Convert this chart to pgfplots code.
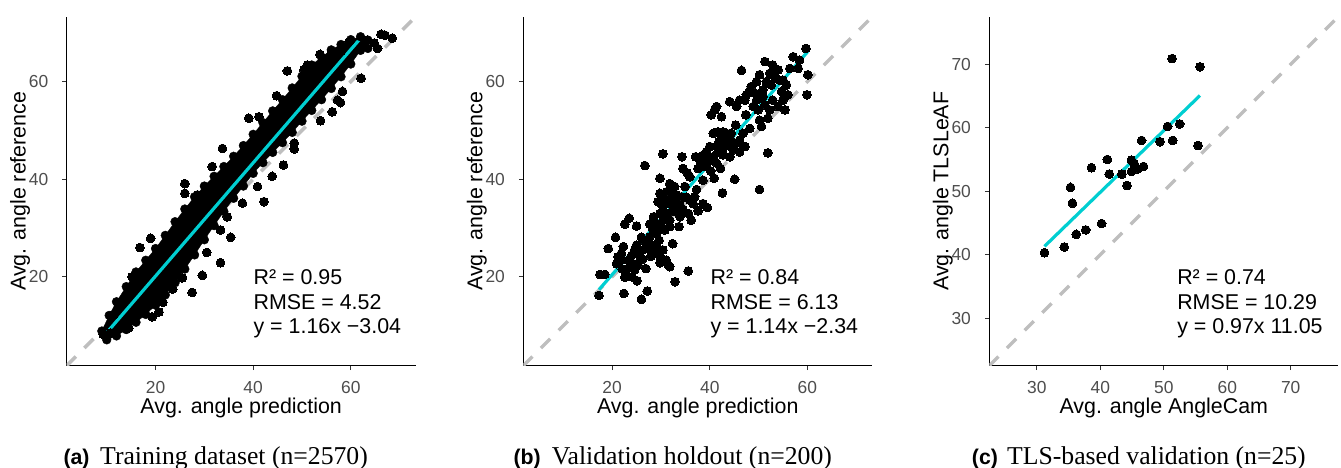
\documentclass[border=0pt]{standalone}
\usepackage{fontspec}
\setmainfont{Liberation Sans}
\newfontfamily\capserif{Liberation Serif}
\usepackage{pgfplots}
\pgfplotsset{compat=1.18}

\definecolor{fitcyan}{RGB}{0,206,209}
\definecolor{refgrey}{RGB}{190,190,190}
\definecolor{ticktext}{RGB}{77,77,77}
\definecolor{tickmark}{RGB}{51,51,51}

\pgfplotsset{
  panel/.style={
    scale only axis, width=349pt, height=349pt,
    anchor=south west,
    axis x line*=bottom, axis y line*=left,
    axis line style={line width=1.3pt, -},
    tick align=outside, major tick length=4.5pt,
    tick style={line width=1pt, color=tickmark},
    /pgf/number format/assume math mode=true,
    ticklabel style={font=\fontsize{17.4}{20}\selectfont, text=ticktext},
    xticklabel style={anchor=base, inner sep=0pt, yshift=-23.6pt},
    yticklabel style={anchor=east, inner sep=0pt, xshift=-13.7pt},
    label style={font=\fontsize{21.4}{24}\selectfont},
    xlabel style={at={(axis description cs:0.5,-0.1384)}, anchor=base},
    ylabel style={at={(axis description cs:-0.1175,0.5)}, anchor=base},
  },
  dots/.style={only marks, mark=*, mark size=4.4pt,
    mark options={draw=black, fill=black, line width=0pt}},
  refline/.style={refgrey, line width=3.5pt, dash pattern=on 13pt off 12pt},
  fitline/.style={fitcyan, line width=3.2pt},
}
\newcommand{\stats}{\fontsize{21.4}{24.2}\selectfont}

\begin{document}
\begin{tikzpicture}
\path[use as bounding box] (0,0) rectangle (1341pt,468pt);

% (a) training
\begin{axis}[panel, at={(66.7pt,102.3pt)},
  xmin=1.8, xmax=73.3, ymin=1.8, ymax=73.3,
  xtick={20,40,60}, ytick={20,40,60},
  xlabel={Avg. angle prediction}, ylabel={Avg. angle reference}]
\addplot[refline] coordinates {(1.8,1.8) (73.3,73.3)};
% dense core of the 2570 points, traced as an envelope (marks at its rim)
\addplot[fill=black, draw=black, mark=*, mark size=4.4pt] coordinates {
 (9,8.9) (10.5,12.1) (12,14.9) (14,18.0) (16,21.0) (18,23.4) (20,25.8)
 (22,28.5) (24,31.3) (26,33.9) (28,36.4) (30,38.6) (32,40.6) (34,42.6)
 (36,44.7) (38,46.9) (40,49.2) (42,51.6) (44,54.0) (46,56.3) (48,58.7)
 (50,61.1) (52,63.4) (54,65.0) (56,66.5) (58,67.6) (60,68.6) (62,69.2)
 (63.5,68.5) (63.5,66.8)
 (62,66.4) (60,63.6) (58,61.0) (56,58.6) (54,56.3) (52,54.1) (50,51.9)
 (48,49.6) (46,47.5) (44,45.5) (42,43.4) (40,41.2) (38,38.6) (36,36.1)
 (34,33.4) (32,30.5) (30,27.6) (28,24.5) (26,21.6) (24,18.8) (22,16.3)
 (20,14.2) (18,12.3) (16,10.7) (14,9.2) (12,7.9) (10,7.1)} -- cycle;
\addplot[dots] coordinates {
 (47.0,62.2) (53.7,65.6) (56.1,66.2) (58.0,66.2) (66.2,69.7) (68.5,68.9)
 (65.5,66.8) (62.1,60.7) (57.9,55.7) (53.8,52.0) (48.4,47.4) (48.4,46.2)
 (46.2,42.9) (43.9,40.6) (42.2,35.4) (39.1,52.5) (33.7,46.3) (26.0,39.1)
 (26.0,37.1) (19.0,27.9) (16.8,26.0) (33.3,22.9) (35.4,28.1) (29.6,20.3)
 (27.5,16.8) (20.7,12.8) (19.3,11.8) (14.5,9.5) (10.8,8.5) (9.3,8.2)
 (15.2,20.0) (12.5,14.1) (11.5,12.3) (51.1,63.4) (50.4,62.4) (59.7,68.2)
 (63.4,68.5) (64.8,67.9) (67.0,69.5) (44.8,57.1) (41.2,52.8) (31.6,42.6)
 (28.6,36.8) (37.8,35.1) (40.9,38.5) (34.7,32.3) (33.3,29.6) (57.3,56.2)
 (58.3,58.0) (56.2,53.8) (23.5,17.5) (25.5,19.8) (30.5,25.0) (21.5,14.8)};
\addplot[fitline] coordinates {(9.5,7.98) (62.4,69.34)};
\node[anchor=north west, inner sep=0pt, align=left, font=\stats]
  at (rel axis cs:0.535,0.275) {R² = 0.95\\RMSE = 4.52\\y = 1.16x −3.04};
\end{axis}

% (b) validation holdout
\begin{axis}[panel, at={(523.3pt,102.3pt)},
  xmin=1.8, xmax=73.3, ymin=1.8, ymax=73.3,
  xtick={20,40,60}, ytick={20,40,60},
  xlabel={Avg. angle prediction}, ylabel={Avg. angle reference}]
\addplot[refline] coordinates {(1.8,1.8) (73.3,73.3)};
\addplot[dots] coordinates {
 (17.3,16.2) (17.5,20.5) (18.5,20.5) (19.2,25.8) (20.7,28.1) (22.4,16.6)
 (22.6,19.9) (22.1,21.6) (21.8,23.4) (22.3,26.2) (21.9,24.8) (22.6,30.8)
 (23.5,32.0) (25.0,30.4) (25.1,19.2) (26.0,15.4) (27.2,17.1) (26.9,21.7)
 (23.6,22.1) (24.3,22.7) (23.3,23.4) (24.0,24.4) (24.6,25.5) (25.0,26.5)
 (26.0,28.1) (26.2,25.5) (26.2,23.6) (25.3,22.4) (27.9,24.2) (27.7,26.8)
 (27.7,30.8) (26.7,42.8) (29.9,24.1) (29.8,22.9) (29.9,25.5) (29.6,27.5)
 (31.1,23.4) (31.8,22.1) (32.4,26.8) (32.9,19.0) (35.6,21.2) (33.7,30.3)
 (28.5,32.3) (29.8,40.2) (30.4,45.2) (28.4,29.6) (29.1,28.9) (28.7,30.9)
 (29.8,33.0) (30.4,34.4) (29.4,35.4) (29.8,37.1) (30.8,35.7) (31.1,37.4)
 (31.8,39.1) (32.2,36.4) (30.4,31.6) (31.5,33.0) (31.8,30.3) (30.8,29.6)
 (32.5,34.4) (33.2,33.3) (33.9,34.7) (34.5,33.7) (34.2,36.4) (34.9,38.5)
 (34.5,42.2) (34.3,44.6) (35.4,41.3) (35.9,35.7) (35.2,36.3) (36.2,31.6)
 (37.6,33.5) (37.3,37.9) (37.1,44.6) (38.6,35.0) (39.5,34.2) (38.6,39.8)
 (40.2,41.7) (40.9,40.2) (42.6,37.2) (45.1,40.0) (42.2,42.2) (40.7,44.6)
 (41.4,46.7) (40.0,46.7) (39.3,45.6) (38.6,44.9) (41.9,47.7) (42.7,45.0)
 (44.1,44.6) (43.8,47.4) (44.4,49.4) (44.8,46.0) (45.5,47.4) (46.1,45.6)
 (47.2,46.7) (45.3,51.1) (43.4,49.4) (42.7,49.7) (41.7,49.7) (40.7,49.4)
 (42.4,48.4) (40.3,53.2) (41.0,54.2) (41.4,54.9) (42.4,52.8) (44.1,55.9)
 (46.5,62.3) (47.2,56.2) (47.4,53.2) (48.2,50.4) (48.5,59.0) (48.9,54.9)
 (49.6,56.2) (49.9,54.2) (50.2,52.1) (50.6,50.8) (49.6,60.0) (50.2,61.4)
 (51.3,64.1) (51.9,45.4) (50.2,37.9) (50.9,58.3) (51.3,55.2) (51.6,60.0)
 (52.3,61.7) (52.9,63.4) (52.6,59.3) (53.3,60.9) (52.9,56.2) (52.3,54.2)
 (54.0,62.4) (54.3,60.3) (54.7,58.0) (55.0,56.2) (54.0,54.9) (55.4,54.2)
 (56.0,57.3) (55.7,59.3) (56.4,62.7) (57.1,65.1) (58.1,62.7) (58.4,64.4)
 (59.7,66.8) (60.1,61.4) (59.9,57.3) (55.0,60.3) (50.9,56.9) (51.9,52.5)
 (31.1,35.0) (31.8,37.8) (32.8,38.5) (32.5,35.7) (33.2,36.8) (33.9,32.3)
 (31.8,31.6) (30.1,30.3) (35.6,33.0) (36.6,35.0) (36.9,36.4) (35.9,40.5)
 (37.6,42.2) (38.0,43.9) (39.0,42.6) (39.7,43.6) (41.4,43.3) (41.7,45.6)
 (43.0,46.7) (44.1,48.4) (46.1,48.0) (46.8,49.4) (45.5,54.9) (47.5,57.3)
 (46.1,56.2) (48.3,58.3) (49.3,57.6) (21.2,24.1) (20.9,22.7) (22.9,21.4)
 (24.0,20.0) (24.6,21.4) (25.7,24.1) (27.0,25.8) (26.7,27.2) (27.7,28.2)
 (28.7,26.2) (30.4,25.5) (31.5,22.4) (28.4,24.8) (29.1,25.8)};
\addplot[fitline] coordinates {(17.3,17.38) (60.1,66.17)};
\node[anchor=north west, inner sep=0pt, align=left, font=\stats]
  at (rel axis cs:0.536,0.275) {R² = 0.84\\RMSE = 6.13\\y = 1.14x −2.34};
\end{axis}

% (c) TLS-based validation
\begin{axis}[panel, at={(989.3pt,102.3pt)},
  xmin=22.5, xmax=77.5, ymin=22.5, ymax=77.5,
  xtick={30,40,50,60,70}, ytick={30,40,50,60,70},
  xlabel={Avg. angle AngleCam}, ylabel={Avg. angle TLSLeAF}]
\addplot[refline] coordinates {(22.5,22.5) (77.5,77.5)};
\addplot[dots] coordinates {
 (31.2,40.3) (34.3,41.2) (36.2,43.2) (37.7,43.9) (40.2,44.9) (35.3,50.6)
 (35.6,48.1) (38.6,53.7) (41.1,55.0) (41.4,52.7) (43.4,52.7) (44.2,50.9)
 (44.9,54.9) (44.9,53.1) (45.3,54.4) (45.9,53.5) (46.8,53.9) (46.5,58.0)
 (49.4,57.8) (50.6,60.2) (52.5,60.6) (51.4,58.0) (55.4,57.2) (51.3,70.9)
 (55.7,69.6)};
\addplot[fitline] coordinates {(31.2,41.31) (55.7,65.08)};
\node[anchor=north west, inner sep=0pt, align=left, font=\stats]
  at (rel axis cs:0.538,0.275) {R² = 0.74\\RMSE = 10.29\\y = 0.97x 11.05};
\end{axis}

% sub-captions
\node[anchor=base west, inner sep=0pt, font=\bfseries\fontsize{21.3}{24}\selectfont]
  at (63.3pt,3.6pt) {(a)};
\node[anchor=base west, inner sep=0pt, font=\capserif\fontsize{25.7}{30}\selectfont]
  at (100pt,3.6pt) {Training dataset (n=2570)};
\node[anchor=base west, inner sep=0pt, font=\bfseries\fontsize{21.3}{24}\selectfont]
  at (513.3pt,3.6pt) {(b)};
\node[anchor=base west, inner sep=0pt, font=\capserif\fontsize{25.7}{30}\selectfont]
  at (551.7pt,3.6pt) {Validation holdout (n=200)};
\node[anchor=base west, inner sep=0pt, font=\bfseries\fontsize{21.3}{24}\selectfont]
  at (971.7pt,3.6pt) {(c)};
\node[anchor=base west, inner sep=0pt, font=\capserif\fontsize{25.7}{30}\selectfont]
  at (1007pt,3.6pt) {TLS-based validation (n=25)};
\end{tikzpicture}
\end{document}
